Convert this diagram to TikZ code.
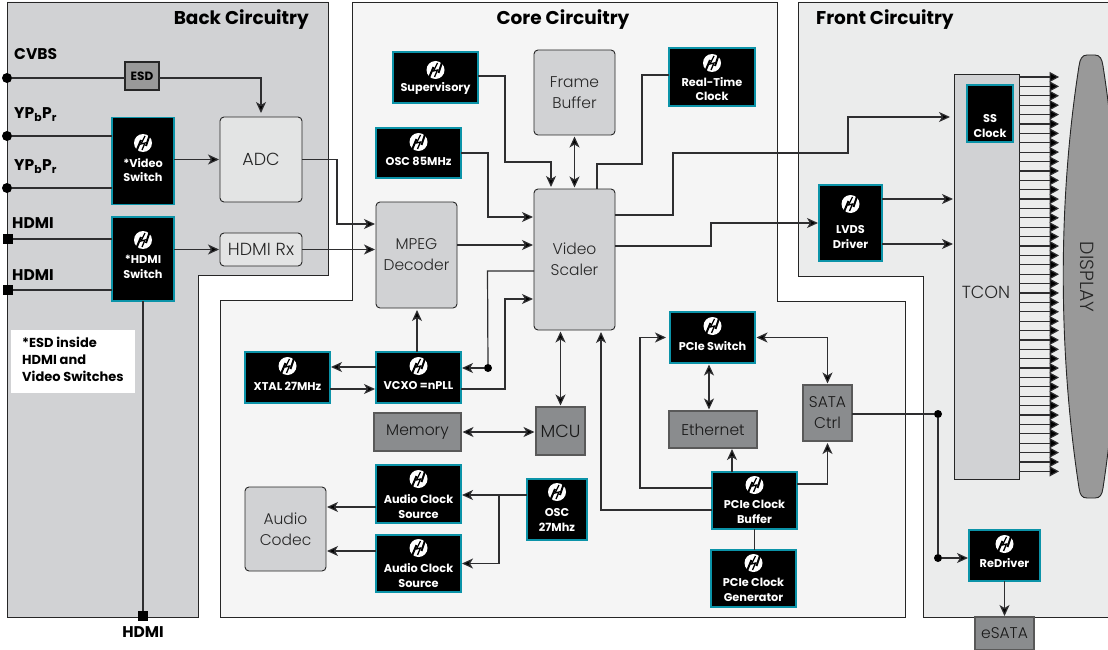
\documentclass[tikz,border=0pt]{standalone}
\usepackage{fontspec}
\usepackage{xcolor}
\usetikzlibrary{positioning,arrows.meta,calc}
\setmainfont{Poppins}
\newfontfamily\lightfont{Poppins Light}

\definecolor{chipteal}{HTML}{0B93A8}
\definecolor{backgray}{HTML}{D1D2D4}
\definecolor{coregray}{HTML}{F5F5F5}
\definecolor{frontgray}{HTML}{EBECEC}
\definecolor{palegray}{HTML}{E3E4E4}
\definecolor{midgray}{HTML}{8A8C8E}
\definecolor{wiregray}{HTML}{2E2E30}

\newcommand{\bigtxt}{\fontsize{17.5}{21}\selectfont}

\tikzset{
  panel/.style={draw=black!85, line width=0.9pt},
  wh/.style 2 args={minimum width=#1pt, minimum height=#2pt, inner sep=0pt, outer sep=0pt},
  chip/.style={draw=chipteal, fill=black, line width=1.4pt},
  chiptext/.style={text=white, font=\fontsize{11.3}{14.5}\selectfont\bfseries, align=center, inner sep=0pt},
  softbox/.style={draw=black!85, rounded corners=4pt, line width=0.9pt, font=\lightfont\fontsize{15.5}{21}\selectfont, align=center, text=black!85},
  hardbox/.style={draw=black!65, line width=1.1pt, fill=midgray, font=\lightfont\fontsize{15.5}{21}\selectfont, align=center, text=black!90},
  title/.style={font=\fontsize{18.5}{20}\selectfont\bfseries, inner sep=0pt},
  sidelabel/.style={font=\fontsize{15.5}{18}\selectfont\bfseries, inner sep=0pt},
  roundport/.style={circle, fill=black, minimum size=10pt, inner sep=0pt},
  squareport/.style={rectangle, fill=black, minimum size=10pt, inner sep=0pt},
  wire/.style={draw=wiregray, line width=1.2pt},
  arr/.style={wire, -{Stealth[length=11pt,width=10pt,inset=3pt,fill=black]}, shorten >=1pt},
  biarr/.style={wire, {Stealth[length=11pt,width=10pt,inset=3pt,fill=black]}-{Stealth[length=11pt,width=10pt,inset=3pt,fill=black]}, shorten >=1.5pt, shorten <=1.5pt},
  gap/.style={shorten >=4pt},
  rowarr/.style={wire, -{Triangle[length=9.5pt,width=10pt,fill=black]}}
}

% small white logo on the black parts
\newcommand{\chiplogo}[2]{
  \fill[white] (#1,#2) circle (9pt);
  \draw[black, line width=2pt] ($(#1,#2)+(-7,9)$) -- ($(#1,#2)+(-2,-3)$);
  \draw[black, line width=2pt] ($(#1,#2)+(7,-9)$) -- ($(#1,#2)+(3,3)$);
  \draw[black, line width=1.3pt] ($(#1,#2)+(2,-7)$) -- ($(#1,#2)+(-2,1)$) -- ($(#1,#2)+(2,0)$) -- ($(#1,#2)+(-1,7)$);
}

\begin{document}
\begin{tikzpicture}[x=1pt,y=-1pt]
  \useasboundingbox (0,0) rectangle (1108,650);
  \clip (0,0) rectangle (1108,650);

  % Panels
  \draw[panel, fill=backgray] (7,2) -- (328,2) -- (328,275) -- (198,275) -- (198,617) -- (7,617) -- cycle;
  \draw[panel, fill=coregray] (352,2) -- (777,2) -- (777,301) -- (905,301) -- (905,617) -- (220,617) -- (220,300) -- (352,300) -- cycle;
  \draw[panel, fill=frontgray] (798,2) -- (1115,2) -- (1115,617) -- (923,617) -- (923,276) -- (798,276) -- cycle;

  \node[title, anchor=east] (backtitle) at (309,20) {Back Circuitry};
  \node[title] (coretitle) at (563,20) {Core Circuitry};
  \node[title, anchor=west] (fronttitle) at (816,20) {Front Circuitry};

  % Display
  \draw[draw=black!85, fill=black!40, line width=0.9pt] (1079,66) .. controls (1080,59) and (1082,55) .. (1087,55) -- (1095,55) .. controls (1100,55) and (1102,59) .. (1103,66)
    .. controls (1124,200) and (1124,350) .. (1103,488) .. controls (1102,495) and (1100,498) .. (1095,498) -- (1087,498) .. controls (1082,498) and (1080,495) .. (1079,488)
    .. controls (1058,350) and (1058,200) .. (1079,66) -- cycle;
  \node[rotate=-90, font=\lightfont\fontsize{19}{21}\selectfont, text=black!85] (displaytext) at (1087,277) {DISPLAY};

  % Rounded and square parts
  \foreach \n/\x/\y/\w/\h/\col/\txt in {adc/261/159.5/82/85/palegray/{\bigtxt ADC}, hdmirx/261/249.5/82/33/palegray/{\bigtxt HDMI Rx}, framebuf/574.5/92.5/81/85/backgray/{Frame\\Buffer}, scaler/574.5/259.5/81/141/backgray/{Video\\Scaler}, mpeg/416.5/255/81/106/backgray/{MPEG\\Decoder}, codec/285.5/529/81/84/backgray/{Audio\\Codec}} {
    \node[softbox, wh={\w}{\h}, fill=\col] (\n) at (\x,\y) {\txt};
  }
  \foreach \n/\x/\y/\w/\h/\txt in {memory/417.5/432/87/38/Memory, mcu/560.5/431/49/48/{\bigtxt MCU}, ethernet/713/429.5/88/37/Ethernet, sata/827.5/413/49/56/{SATA\\Ctrl}, esata/1004.5/633.5/59/33/eSATA} {
    \node[hardbox, wh={\w}{\h}] (\n) at (\x,\y) {\txt};
  }
  \node[draw=black!85, line width=1.1pt, fill=black!40, wh={34}{28}, font=\fontsize{12}{14}\selectfont\bfseries] (esd) at (142,76) {ESD};
  \node[draw=black!85, line width=1pt, fill=backgray, wh={65}{404}] (tcon) at (986.5,277) {};
  \node[font=\lightfont\fontsize{17.5}{20}\selectfont, text=black!85] (tcontext) at (986,292) {TCON};

  % Black parts with logo
  \foreach \n/\x/\y/\w/\h/\ly/\ty/\txt in {vidsw/143/161/62/87/143/170/{*Video\\Switch}, hdmisw/143/259/62/84/240/267/{*HDMI\\Switch}, super/435.5/77.5/85/51/70/88/Supervisory, rtc/712/77/86/58/63/89/{Real-Time\\Clock}, osc85/418.5/153/85/50/142/161/OSC 85MHz, xtal/287.5/377.5/85/51/366/386/XTAL 27MHz, vcxo/418.5/377.5/85/51/366/386/VCXO =nPLL, aud1/418.5/494/85/58/479/506.5/{Audio Clock\\Source}, aud2/418.5/563.5/85/57/548/575.5/{Audio Clock\\Source}, osc27/557/509.5/60/61/492/520/{OSC\\27Mhz}, pciesw/712.5/337.5/85/51/326/346/PCIe Switch, pciebuf/754.5/500.5/85/57/485/512/{PCIe Clock\\Buffer}, pciegen/753.5/578.5/85/57/563/590/{PCIe Clock\\Generator}, redrv/1004.5/555.5/71/51/544/563/ReDriver, lvds/850.5/223/63/76/204/237/{LVDS\\Driver}} {
    \node[chip, wh={\w}{\h}] (\n) at (\x,\y) {};
    \chiplogo{\x}{\ly}
    \node[chiptext] (\n text) at (\x,\ty) {\txt};
  }
  \node[chip, wh={46}{57}] (ssclk) at (990,113.5) {};
  \node[chiptext] (ssclktext) at (990,126) {SS\\Clock};

  % Note
  \node[fill=white, wh={124}{63}] (notebox) at (73,361.5) {};
  \node[anchor=west, align=left, inner sep=0pt, font=\fontsize{13}{17}\selectfont\bfseries] (note) at (22,359) {*ESD inside\\HDMI and\\Video Switches};

  % Input ports
  \node[roundport] (cvbs) at (7,78) {};
  \node[roundport] (yp1) at (7,136) {};
  \node[roundport] (yp2) at (7,188) {};
  \node[squareport] (hd1) at (8,239) {};
  \node[squareport] (hd2) at (8,290) {};
  \node[squareport] (hd3) at (143,616) {};
  \node[sidelabel, anchor=west] (cvbstext) at (14,54) {CVBS};
  \node[sidelabel, anchor=west] (yp1text) at (14,115) {YP\textsubscript{b}P\textsubscript{r}};
  \node[sidelabel, anchor=west] (yp2text) at (14,167) {YP\textsubscript{b}P\textsubscript{r}};
  \node[sidelabel, anchor=west] (hd1text) at (12,223) {HDMI};
  \node[sidelabel, anchor=west] (hd2text) at (12,275) {HDMI};
  \node[sidelabel] (hd3text) at (143,632) {HDMI};

  % Junction dots
  \node[roundport, minimum size=8pt] (jvcxo) at (488,368) {};
  \node[roundport, minimum size=8pt] (jsata) at (938,414) {};
  \node[roundport, minimum size=8pt] (jredrv) at (938,558) {};
  \coordinate (audtap) at (499,495);

  % Back side connectors
  \draw[wire] (cvbs) -- (cvbs -| esd.west);
  \draw[arr, gap] ([yshift=-2pt]esd.east) -| (adc.north);
  \draw[wire] (yp1) -- (yp1 -| vidsw.west);
  \draw[wire] (yp2) -- (yp2 -| vidsw.west);
  \draw[wire] (hd1) -- (hd1 -| hdmisw.west);
  \draw[wire] (hd2) -- (hd2 -| hdmisw.west);
  \draw[arr] (vidsw.east |- adc.west) -- (adc.west);
  \draw[arr] (hdmisw.east |- hdmirx.west) -- (hdmirx.west);
  \draw[wire] (hdmisw.south) -- (hd3);
  \draw[arr] (adc.east) -- ++(35,0) |- ([yshift=31pt]mpeg.west);
  \draw[arr] (hdmirx.east) -- ([yshift=5.5pt]mpeg.west);

  % Core connectors
  \draw[arr, shorten >=2pt] ([yshift=1.5pt]super.east) -- ++(27,0) -- ++(0,86) -| ([xshift=-23.5pt]scaler.north);
  \draw[biarr] (framebuf.south) -- (scaler.north);
  \draw[wire] ([yshift=2pt]rtc.west) -- ++(-27,0) -- ++(0,89) -| ([xshift=22.5pt]scaler.north);
  \draw[arr] (osc85.east) -- ++(27,0) |- ([yshift=42.5pt]scaler.west);
  \draw[arr] ([yshift=10pt]mpeg.east) -- ([yshift=14.5pt]scaler.west);
  \draw[wire] ([yshift=-11.5pt]scaler.west) -- ++(-46.5,0) -- (jvcxo);
  \draw[arr] (jvcxo) -- (jvcxo -| vcxo.east);
  \draw[arr] ([yshift=-11.5pt]vcxo.east) -- ++(44,0) |- ([yshift=-39.5pt]scaler.west);
  \draw[arr, shorten >=2pt] ([xshift=-1.5pt]vcxo.north) -- ([xshift=0.5pt]mpeg.south);
  \draw[arr] ([yshift=10.5pt]vcxo.west) -- ([yshift=10.5pt]xtal.east);
  \draw[arr] ([yshift=-11.5pt]xtal.east) -- ([yshift=-11.5pt]vcxo.west);
  \draw[biarr] (memory.east) -- (memory.east -| mcu.west);
  \draw[biarr] ([xshift=-14pt]scaler.south) -- (mcu.north);
  \draw[arr] ([yshift=14.5pt]osc27.west) -- ([yshift=-1pt]aud1.east);
  \draw[arr] (audtap) |- (aud2.east);
  \draw[arr] ([yshift=-13pt]aud1.west) -- ([yshift=22pt]codec.east);
  \draw[arr] ([yshift=12.5pt]aud2.west) -- ([yshift=-22pt]codec.east);
  \draw[arr, gap] ([yshift=12.5pt]pciebuf.west) -- ++(-72,0) |- (pciesw.west);
  \draw[arr, shorten >=2pt] ([yshift=-9.5pt]pciebuf.west) -| ([xshift=26.5pt]scaler.south);
  \draw[biarr] ([xshift=-3.5pt]pciesw.south) -- ([xshift=-4pt]ethernet.north);
  \draw[arr] ([xshift=-22.5pt]pciebuf.north) -- ([xshift=19pt]ethernet.south);
  \draw[wire] ([xshift=1pt]pciegen.north) -- (pciebuf.south);
  \draw[arr, shorten >=2pt] ([yshift=16.5pt]pciebuf.east) -| (sata.south);
  \draw[biarr] (sata.north) |- (pciesw.east);

  % Front connectors
  \draw[arr, gap] ([yshift=44.5pt]scaler.east) -- ++(58,0) -- ++(0,-62) -- ++(175,0) |- ([yshift=160pt]tcon.west);
  \draw[arr] ([yshift=13.5pt]scaler.east) -- ++(96,0) |- (lvds.west);
  \draw[arr] ([yshift=24pt]lvds.east) -- ([yshift=78pt]tcon.west);
  \draw[arr] ([yshift=-21pt]lvds.east) -- ([yshift=33pt]tcon.west);
  \draw[wire] (jsata -| sata.east) -- (jsata);
  \draw[wire] (jsata) -- (jredrv);
  \draw[arr] (jredrv) -- (jredrv -| redrv.west);
  \draw[arr] (redrv.south) -- (esata.north);

  % TCON outputs to the display
  \foreach \i in {0,...,42} {
    \draw[rowarr] ([yshift={-2pt-\i*9.39pt}]tcon.north east) -- ++(40,0);
  }
\end{tikzpicture}
\end{document}
